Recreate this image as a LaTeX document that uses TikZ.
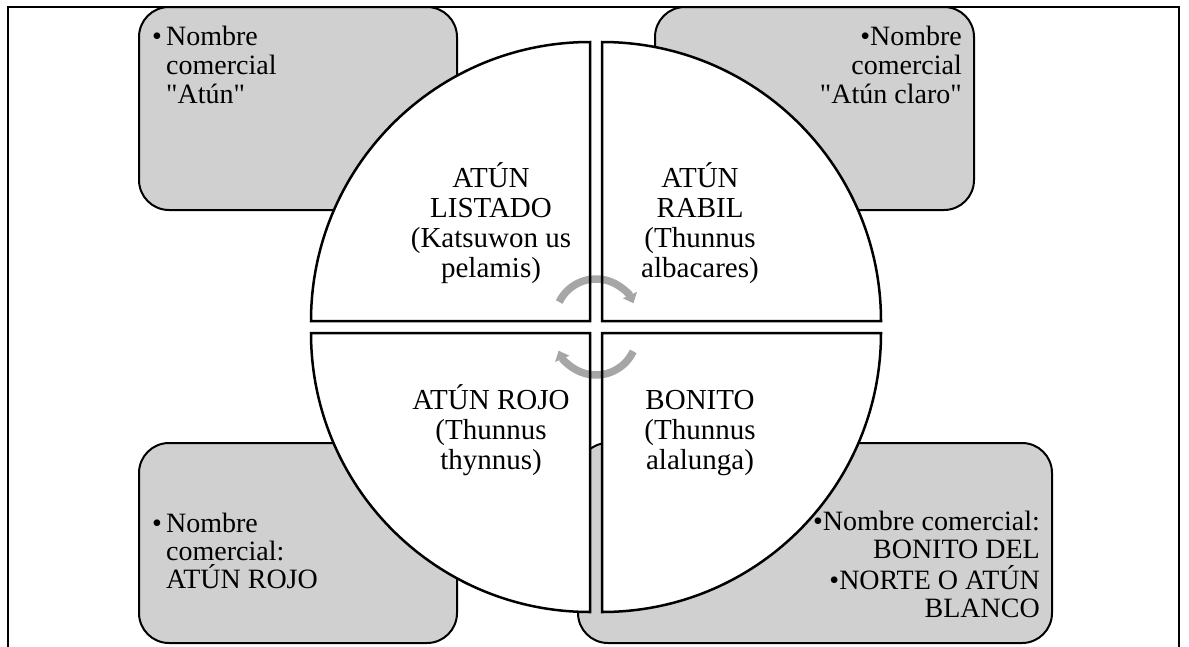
\documentclass[tikz,border=0pt]{standalone}
\usepackage{fontspec}
\setmainfont{Liberation Serif}
\newfontfamily\plainrm{Liberation Serif}
\usetikzlibrary{arrows.meta}
\definecolor{boxgray}{RGB}{208,208,208}
\definecolor{arrgray}{RGB}{166,166,166}
\begin{document}
\begin{tikzpicture}[x=1pt,y=-1pt,
  frame/.style={draw=black,line width=1.5pt},
  infobox/.style={fill=boxgray,draw=black,line width=2pt,rounded corners=30pt},
  quadfill/.style={fill=white},
  quadline/.style={draw=black,line width=2.5pt,line join=miter},
  cyclearrow/.style={draw=arrgray,line width=7.5pt,-{Triangle[length=9pt,width=15pt]}},
  qtext/.style={anchor=base,align=center,inner sep=0pt,font=\plainrm\fontsize{29}{30}\selectfont},
  btextl/.style={anchor=base west,align=left,inner sep=0pt,font=\plainrm\fontsize{28}{29}\selectfont},
  btextr/.style={anchor=base east,align=right,inner sep=0pt,font=\plainrm\fontsize{28}{29}\selectfont},
  lowfont/.style={font=\plainrm\fontsize{28}{28}\selectfont}]
\useasboundingbox (0,0) rectangle (1189,646);
% outer frame
\draw[frame] (8,660) -- (8,7) -- (1179,7) -- (1179,660);
% info boxes
\path[infobox] (139,7) rectangle (457,210);
\path[infobox] (655,7) rectangle (974,210);
\path[infobox] (139,443) rectangle (457,643);
\path[infobox] (578,443) rectangle (1052,643);
% quadrant fills
\path[quadfill] (590,321) -- (311,321) arc[start angle=180,end angle=270,radius=279] -- cycle;
\path[quadfill] (602,321) -- (602,42) arc[start angle=270,end angle=360,radius=279] -- cycle;
\path[quadfill] (602,333) -- (881,333) arc[start angle=0,end angle=90,radius=279] -- cycle;
\path[quadfill] (590,333) -- (590,612) arc[start angle=90,end angle=180,radius=279] -- cycle;
% cycle arrows
\draw[cyclearrow] (559.2,302.0) arc[start angle=206,end angle=336,radius=41];
\draw[cyclearrow] (633.2,351.3) arc[start angle=25,end angle=156,radius=41];
% quadrant outlines
\path[quadline] (590,321) -- (311,321) arc[start angle=180,end angle=270,radius=279] -- cycle;
\path[quadline] (602,321) -- (602,42) arc[start angle=270,end angle=360,radius=279] -- cycle;
\path[quadline] (602,333) -- (881,333) arc[start angle=0,end angle=90,radius=279] -- cycle;
\path[quadline] (590,333) -- (590,612) arc[start angle=90,end angle=180,radius=279] -- cycle;
% quadrant texts (anchor = baseline of last line)
\node[qtext] (q1) at (491,277) {ATÚN\\LISTADO\\(Katsuwon us\\pelamis)};
\node[qtext] (q2) at (700,277) {ATÚN\\RABIL\\(Thunnus\\albacares)};
\node[qtext] (q3) at (491,469) {ATÚN ROJO\\(Thunnus\\thynnus)};
\node[qtext] (q4) at (700,469) {BONITO\\(Thunnus\\alalunga)};
% box texts (anchor = baseline of last line)
\node[btextl] (t1) at (152,103) {\makebox[14pt][l]{•}Nombre\\\hspace*{14pt}comercial\\\hspace*{14pt}"Atún"};
\node[btextr] (t2) at (962,103) {•Nombre\\comercial\\"Atún claro"};
\node[btextl,lowfont] (t3) at (152,588) {\makebox[14pt][l]{•}Nombre\\\hspace*{14pt}comercial:\\\hspace*{14pt}ATÚN ROJO};
\node[btextr,lowfont] (t4) at (1040,617) {•Nombre comercial:\\BONITO DEL\\[3pt]•NORTE O ATÚN\\BLANCO};
\end{tikzpicture}
\end{document}
